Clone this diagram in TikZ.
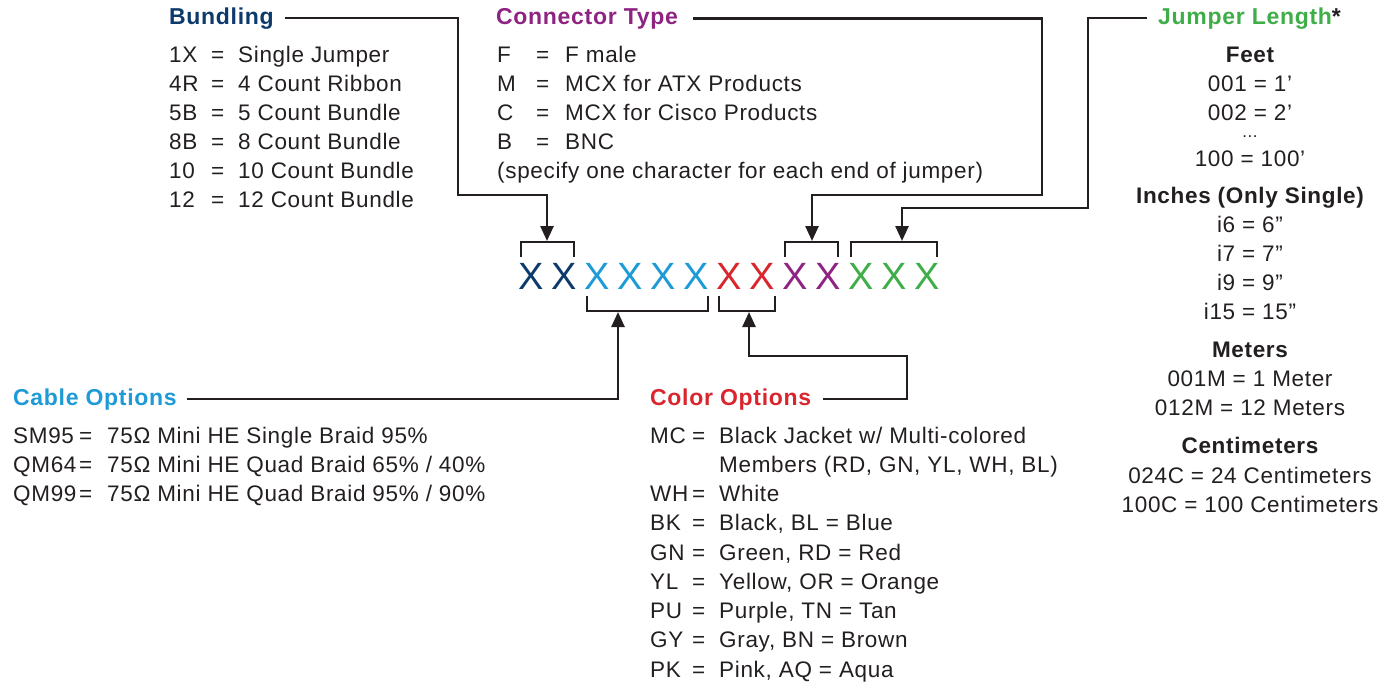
\documentclass[tikz,border=0pt]{standalone}
\usepackage{fontspec}
\setmainfont{Liberation Sans}[LetterSpace=3]
\usetikzlibrary{arrows.meta}
\definecolor{ink}{HTML}{231F20}
\definecolor{bunblue}{HTML}{0C3A6B}
\definecolor{conpurple}{HTML}{8E2382}
\definecolor{jumgreen}{HTML}{3FAE49}
\definecolor{cabblue}{HTML}{1E9AD6}
\definecolor{colred}{HTML}{D9262E}

\begin{document}
\begin{tikzpicture}[x=1pt,y=-1pt,
    title/.style={font=\fontsize{23}{28}\selectfont\bfseries, inner sep=0pt, anchor=base west},
    item/.style={font=\fontsize{22.5}{29}\selectfont, text=ink, inner sep=0pt, anchor=base west},
    head/.style={font=\fontsize{22.5}{29}\selectfont\bfseries, text=ink, inner sep=0pt, anchor=base},
    len/.style={font=\fontsize{22.5}{29}\selectfont, text=ink, inner sep=0pt, anchor=base},
    code/.style={font=\fontsize{38}{38}\selectfont, inner sep=0pt},
    lead/.style={draw=ink, line width=2.5pt},
    tip/.style={-{Triangle[width=13pt,length=15pt]}}]

    \useasboundingbox (0,0) rectangle (1394,681);

    % Part number
    \foreach \c [count=\i from 0] in {bunblue,bunblue,cabblue,cabblue,cabblue,cabblue,colred,colred,conpurple,conpurple,jumgreen,jumgreen,jumgreen}
        \node[code, text=\c] (x\i) at (531+33*\i,276) {X};

    % Brackets above and below
    \draw[lead] ([shift={(-10,-19)}]x0.center) -- ++(0,-15) -| ([shift={(10,-19)}]x1.center);
    \draw[lead] ([shift={(-10,-19)}]x8.center) -- ++(0,-15) -| ([shift={(10,-19)}]x9.center);
    \draw[lead] ([shift={(-10,-19)}]x10.center) -- ++(0,-15) -| ([shift={(10,-19)}]x12.center);
    \draw[lead] ([shift={(-10,20)}]x2.center) -- ++(0,15) -| ([shift={(12,20)}]x5.center);
    \draw[lead] ([shift={(-10,20)}]x6.center) -- ++(0,15) -| ([shift={(13,20)}]x7.center);

    \coordinate (bunTip) at (547,241);
    \coordinate (conTip) at (812,241);
    \coordinate (jumTip) at (902,241);
    \coordinate (cabTip) at (618,312);
    \coordinate (colTip) at (749,312);

    % Bundling
    \node[title, text=bunblue] (bundling) at (169,24) {Bundling};
    \foreach \k/\d [count=\i from 0] in {1X/Single Jumper, 4R/4 Count Ribbon, 5B/5 Count Bundle, 8B/8 Count Bundle, 10/10 Count Bundle, 12/12 Count Bundle} {
        \node[item] (bunk\i) at (169,62+29*\i) {\k};
        \node[item] (bune\i) at (211,62+29*\i) {=};
        \node[item] (bund\i) at (238,62+29*\i) {\d};
    }

    % Connector type
    \node[title, text=conpurple] (connector) at (496,24) {Connector Type};
    \foreach \k/\d [count=\i from 0] in {F/F male, M/MCX for ATX Products, C/MCX for Cisco Products, B/BNC} {
        \node[item] (conk\i) at (497,62+29*\i) {\k};
        \node[item] (cone\i) at (536,62+29*\i) {=};
        \node[item] (cond\i) at (565,62+29*\i) {\d};
    }
    \node[item] (connote) at (497,178) {(specify one character for each end of jumper)};

    % Jumper length
    \node[title, text=jumgreen] (jumper) at (1158,24) {Jumper Length\textcolor{ink}{*}};
    \node[head] (feet) at (1250,62) {Feet};
    \node[len] (ft1) at (1250,91) {001 = 1’};
    \node[len] (ft2) at (1250,120) {002 = 2’};
    \node[len, font=\fontsize{17}{20}\selectfont] (ftdots) at (1250,137) {...};
    \node[len] (ft3) at (1250,166) {100 = 100’};
    \node[head] (inches) at (1250,203) {Inches (Only Single)};
    \node[len] (in1) at (1250,232) {i6 = 6”};
    \node[len] (in2) at (1250,261) {i7 = 7”};
    \node[len] (in3) at (1250,290) {i9 = 9”};
    \node[len] (in4) at (1250,319) {i15 = 15”};
    \node[head] (meters) at (1250,357) {Meters};
    \node[len] (m1) at (1250,386) {001M = 1 Meter};
    \node[len] (m2) at (1250,415) {012M = 12 Meters};
    \node[head] (centi) at (1250,453) {Centimeters};
    \node[len] (cm1) at (1250,483) {024C = 24 Centimeters};
    \node[len] (cm2) at (1250,512) {100C = 100 Centimeters};

    % Cable options
    \node[title, text=cabblue] (cable) at (13,405) {Cable Options};
    \foreach \k/\d [count=\i from 0] in {SM95/{75Ω Mini HE Single Braid 95\%}, QM64/{75Ω Mini HE Quad Braid 65\% / 40\%}, QM99/{75Ω Mini HE Quad Braid 95\% / 90\%}} {
        \node[item] (cabk\i) at (13,443+29*\i) {\k};
        \node[item] (cabe\i) at (79,443+29*\i) {=};
        \node[item] (cabd\i) at (107,443+29*\i) {\d};
    }

    % Color options
    \node[title, text=colred] (color) at (650,405) {Color Options};
    \foreach \k/\d [count=\i from 0] in {MC/{Black Jacket w/ Multi-colored}, /{Members (RD, GN, YL, WH, BL)}, WH/White, BK/{Black, BL = Blue}, GN/{Green, RD = Red}, YL/{Yellow, OR = Orange}, PU/{Purple, TN = Tan}, GY/{Gray, BN = Brown}, PK/{Pink, AQ = Aqua}} {
        \node[item] (colk\i) at (650,443+29.25*\i) {\k};
        \node[item] (cold\i) at (719,443+29.25*\i) {\d};
    }
    \foreach \i in {0,2,3,4,5,6,7,8}
        \node[item] (cole\i) at (692,443+29.25*\i) {=};

    % Leaders
    \draw[lead, tip] ([xshift=11pt]bundling.east) -| (458,195) -| (bunTip);
    \draw[lead, tip] ([xshift=15pt]connector.east) -| (1042,195) -| (conTip);
    \draw[lead, tip] ([xshift=-11pt]jumper.west) -| (1088,208) -| (jumTip);
    \draw[lead, tip] ([xshift=10pt]cable.east) -| (cabTip);
    \draw[lead, tip] ([xshift=12pt]color.east) -| (907,356) -| (colTip);
\end{tikzpicture}
\end{document}
